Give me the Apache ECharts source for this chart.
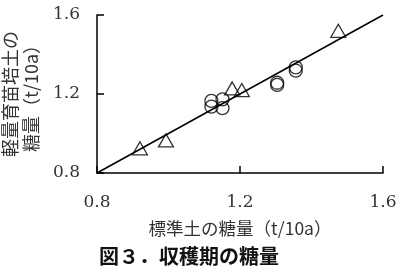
<!DOCTYPE html>
<html><head><meta charset="utf-8">
<script src="https://cdn.jsdelivr.net/npm/echarts@6/dist/echarts.min.js"></script>
<style>html,body{margin:0;padding:0;background:#fff}#c{width:400px;height:273px}</style>
</head><body><div id="c"></div>
<script>
const xTicks = [0.8, 1.2, 1.6];
const yTicks = [0.8, 1.2, 1.6];
// triangles
const triX = [0.920, 0.993, 1.178, 1.205, 1.475];
const triY = [0.925, 0.965, 1.228, 1.220, 1.520];
// circles
const cirX = [1.120, 1.120, 1.151, 1.151, 1.304, 1.304, 1.356, 1.356];
const cirY = [1.165, 1.136, 1.173, 1.128, 1.257, 1.246, 1.335, 1.318];
// regression line (1:1)
const lineX = [0.8, 1.6];
const lineY = [0.8, 1.6];

const xName = '標準土の糖量（t/10a）';
const yName = '軽量育苗培土の\n糖量（t/10a）';
const titleText = '図３．収穫期の糖量';

const zip = (a, b) => a.map((v, i) => [v, b[i]]);
const numFont = 'DejaVu Serif';
const cjkFont = 'Noto Sans CJK JP';

const chart = echarts.init(document.getElementById('c'), null, {renderer: 'canvas'});
chart.setOption({
  animation: false,
  backgroundColor: '#fff',
  title: {
    text: titleText, left: 94, top: 241,
    textStyle: {fontFamily: cjkFont, fontSize: 20, fontWeight: 'bold', color: '#111'}
  },
  grid: {left: 97, right: 17, top: 15, bottom: 100, containLabel: false, outerBoundsMode: 'none'},
  xAxis: {
    type: 'value', min: xTicks[0], max: xTicks[xTicks.length - 1], interval: 0.4,
    name: xName, nameLocation: 'middle', nameGap: 47,
    nameTextStyle: {fontFamily: cjkFont, fontSize: 17.5, color: '#333'},
    axisLine: {show: true, lineStyle: {color: '#000', width: 1.5}},
    axisTick: {show: true, inside: true, length: 7, lineStyle: {color: '#000', width: 1.5}},
    splitLine: {show: false},
    axisLabel: {fontFamily: numFont, fontSize: 17, color: '#333', margin: 21,
      formatter: v => v.toFixed(1)}
  },
  yAxis: {
    type: 'value', min: yTicks[0], max: yTicks[yTicks.length - 1], interval: 0.4,
    name: yName, nameLocation: 'middle', nameRotate: 90, nameGap: 50,
    nameTextStyle: {fontFamily: cjkFont, fontSize: 18, color: '#333', lineHeight: 21,
      padding: [0, 0, 0, 0]},
    axisLine: {show: true, lineStyle: {color: '#000', width: 1.5}},
    axisTick: {show: true, inside: true, length: 7, lineStyle: {color: '#000', width: 1.5}},
    splitLine: {show: false},
    axisLabel: {fontFamily: numFont, fontSize: 17, color: '#333', margin: 17,
      padding: [6, 0, 0, 0], formatter: v => v.toFixed(1)}
  },
  series: [
    {type: 'line', data: zip(lineX, lineY), showSymbol: false, symbol: 'none',
     lineStyle: {color: '#000', width: 1.5}, z: 1},
    {type: 'scatter', data: zip(triX, triY), symbol: 'triangle', symbolSize: [15, 13],
     itemStyle: {color: 'rgba(0,0,0,0)', borderColor: '#000', borderWidth: 1.3}, z: 2},
    {type: 'scatter', data: zip(cirX, cirY), symbol: 'circle', symbolSize: 13,
     itemStyle: {color: 'rgba(0,0,0,0)', borderColor: '#000', borderWidth: 1.3}, z: 2}
  ]
});
</script></body></html>
